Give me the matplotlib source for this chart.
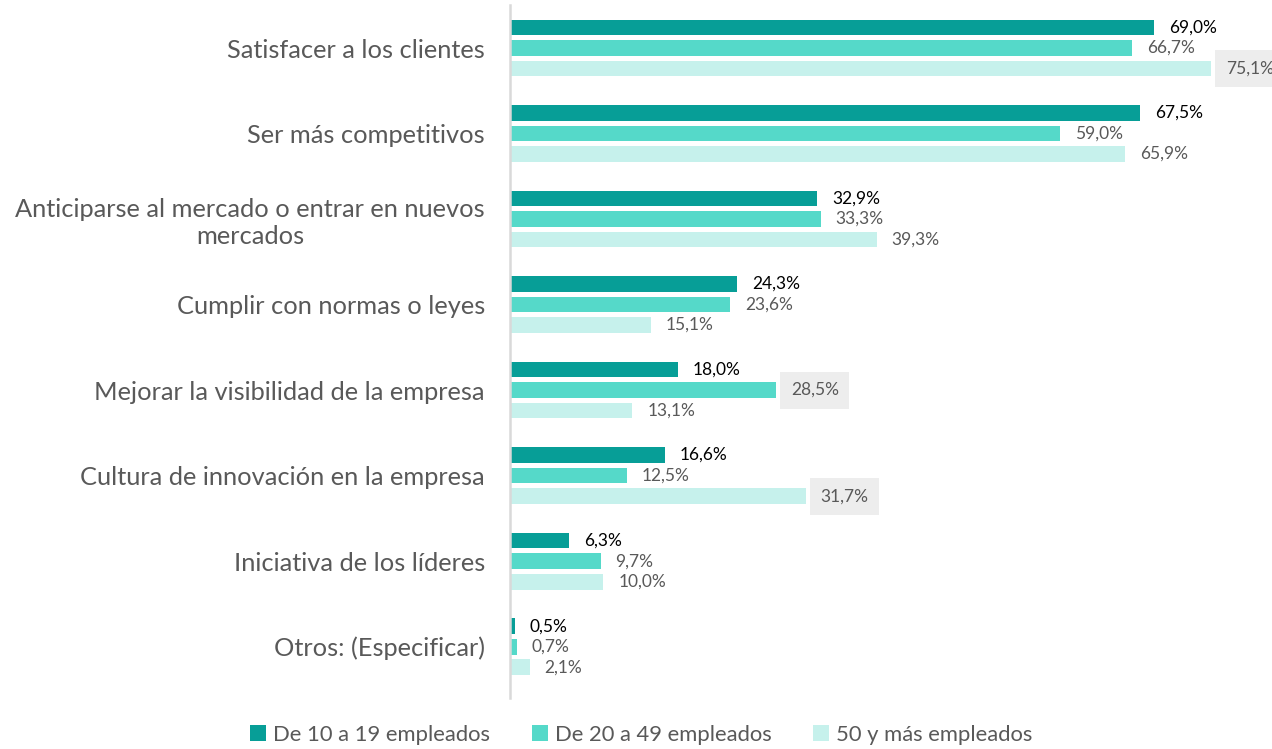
import matplotlib
matplotlib.use("Agg")
import matplotlib.pyplot as plt
from matplotlib.patches import Patch
import numpy as np

plt.rcParams['font.family'] = ['Lato', 'DejaVu Sans']

categories = [
    "Satisfacer a los clientes",
    "Ser más competitivos",
    "Anticiparse al mercado o entrar en nuevos\nmercados",
    "Cumplir con normas o leyes",
    "Mejorar la visibilidad de la empresa",
    "Cultura de innovación en la empresa",
    "Iniciativa de los líderes",
    "Otros: (Especificar)",
]
series_names = ["De 10 a 19 empleados", "De 20 a 49 empleados", "50 y más empleados"]
s_10_19 = [69.0, 67.5, 32.9, 24.3, 18.0, 16.6, 6.3, 0.5]
s_20_49 = [66.7, 59.0, 33.3, 23.6, 28.5, 12.5, 9.7, 0.7]
s_50_mas = [75.1, 65.9, 39.3, 15.1, 13.1, 31.7, 10.0, 2.1]
highlighted = [(0, 2), (4, 1), (5, 2)]  # (category, series) labels shown with a grey box

series = [s_10_19, s_20_49, s_50_mas]
colors = ["#079e97", "#55d9c9", "#c6f1ec"]
label_colors = ["#000000", "#595959", "#595959"]

W, H = 1272, 749
fig = plt.figure(figsize=(W / 100, H / 100), dpi=100)
left_px, top_px, bottom_px = 510, 5, 698
xmax = 76
px_per_unit = 9.33
ax = fig.add_axes([left_px / W, 1 - bottom_px / H, xmax * px_per_unit / W, (bottom_px - top_px) / H])

y = np.arange(len(categories))
offsets = [-0.24, 0.0, 0.24]
bar_h = 0.183
for i, (vals, c) in enumerate(zip(series, colors)):
    ax.barh(y + offsets[i], vals, height=bar_h, color=c, label=series_names[i])
    for j, v in enumerate(vals):
        txt = f"{v:.1f}".replace(".", ",") + "%"
        kw = {}
        if (j, i) in highlighted:
            kw["bbox"] = dict(boxstyle="square,pad=0.6", fc="#ededed", ec="none")
        ax.annotate(txt, (v, y[j] + offsets[i]), xytext=(15 * 0.72, 0), textcoords="offset points",
                    ha="left", va="center", fontsize=12.5, color=label_colors[i], **kw)

ax.set_xlim(0, xmax)
ax.set_ylim(7.6, -0.503)
ax.set_yticks(y)
ax.set_yticklabels(categories, fontsize=18.3, color="#595959", multialignment="center")
ax.tick_params(axis="y", length=0, pad=18)
ax.set_xticks([])
for s in ["top", "right", "bottom"]:
    ax.spines[s].set_visible(False)
ax.spines["left"].set_color("#d9d9d9")
ax.spines["left"].set_linewidth(1.8)

handles = [Patch(facecolor=c, edgecolor="none") for c in colors]
fig.legend(handles, series_names, loc="center", bbox_to_anchor=(0.504, 0.0187), ncol=3,
           frameon=False, fontsize=15.8, handlelength=0.75, handleheight=0.75,
           handletextpad=0.3, columnspacing=1.9, labelcolor="#595959")

fig.savefig("out.png", dpi=100)
